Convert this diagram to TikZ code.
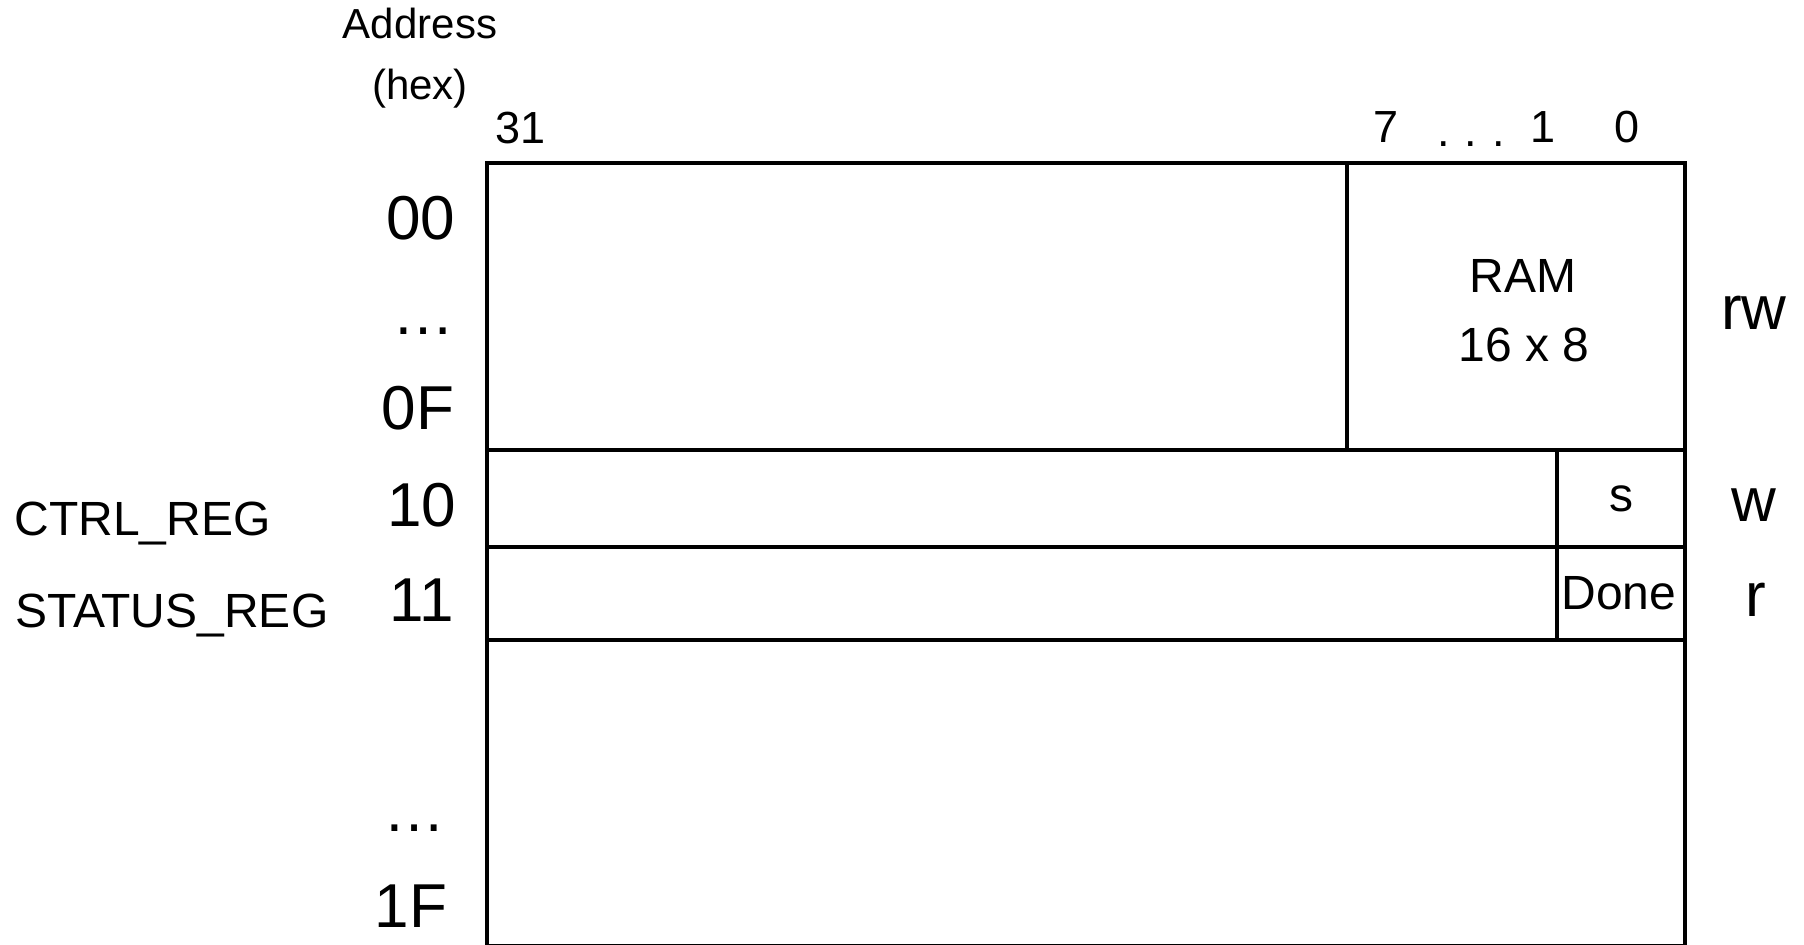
\documentclass[tikz,border=0pt]{standalone}
\usepackage{fontspec}
\setmainfont{Liberation Sans}
\begin{document}
\begin{tikzpicture}[x=0.5pt,y=-0.5pt,
  frame/.style={line width=2.4pt, line join=miter},
  lbl/.style={inner sep=0pt, anchor=base},
  small/.style={lbl, font=\fontsize{21}{23}\selectfont},
  hdr/.style={lbl, font=\fontsize{22.5}{24}\selectfont},
  mid/.style={lbl, font=\fontsize{24}{26}\selectfont},
  big/.style={lbl, font=\fontsize{31}{33}\selectfont}]
\useasboundingbox (0,0) rectangle (1804,945);
% frame coordinates
\coordinate (tl) at (487,163);
\coordinate (tr) at (1685,163);
\coordinate (bl) at (487,946);
\coordinate (br) at (1685,946);
\coordinate (d1t) at (1347,163);
\coordinate (d1b) at (1347,450);
\coordinate (h1l) at (487,450);
\coordinate (h1r) at (1685,450);
\coordinate (h2l) at (487,547);
\coordinate (h2r) at (1685,547);
\coordinate (h3l) at (487,640);
\coordinate (h3r) at (1685,640);
\coordinate (d2t) at (1557,450);
\coordinate (d2b) at (1557,640);
\draw[frame] (tl) -- (tr) -- (br) -- (bl) -- cycle;
\draw[frame] (d1t) -- (d1b);
\draw[frame] (h1l) -- (h1r);
\draw[frame] (h2l) -- (h2r);
\draw[frame] (h3l) -- (h3r);
\draw[frame] (d2t) -- (d2b);
% header
\node[small] (address) at (420,39) {Address};
\node[small] (hex) at (420,100) {(hex)};
\node[hdr] (b31) at (521,144) {31};
\node[hdr] (b7) at (1386,143) {7};
\node[hdr] (bdots) at (1471,147) {.\,\,.\,\,.};
\node[hdr] (b1) at (1543,143) {1};
\node[hdr] (b0) at (1627,143) {0};
% addresses
\node[big] (a00) at (421,240) {00};
\node[big] (adots1) at (423,335) {…};
\node[big] (a0F) at (418,430) {0F};
\node[big] (a10) at (422,527) {10};
\node[big] (a11) at (422,622) {11};
\node[big] (adots2) at (414,831) {…};
\node[big] (a1F) at (411,927) {1F};
% register names
\node[mid, anchor=base west] (ctrl) at (14,536) {CTRL\_REG};
\node[mid, anchor=base west] (status) at (15,628) {STATUS\_REG};
% cell contents
\node[mid] (ram) at (1523,293) {RAM};
\node[mid] (ramsize) at (1524,362) {16 x 8};
\node[mid] (s) at (1621,512) {s};
\node[mid] (done) at (1619,610) {Done};
% access
\node[big] (rw) at (1754,330) {rw};
\node[big] (w) at (1754,522) {w};
\node[big] (r) at (1756,617) {r};
\end{tikzpicture}
\end{document}
